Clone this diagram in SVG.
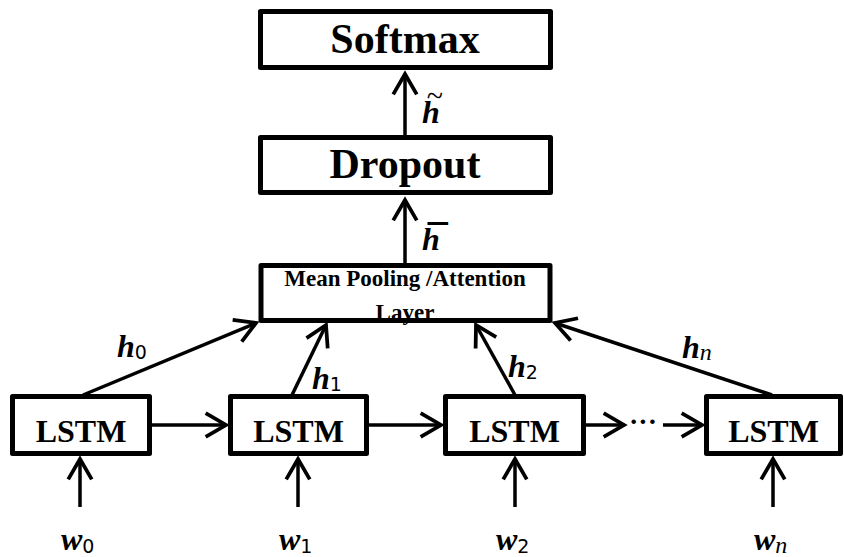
<svg xmlns="http://www.w3.org/2000/svg" width="844" height="557" viewBox="0 0 844 557">
<style>
.box{fill:none;stroke:#000;stroke-width:5;stroke-linejoin:round}
.t{font-family:"Liberation Serif","Times New Roman",serif;font-weight:bold;text-anchor:middle;fill:#000}
.c{stroke:#000;stroke-width:3.5;fill:none}
.m{font-family:"Liberation Serif","Times New Roman",serif;font-weight:bold;font-style:italic;font-size:32px;fill:#000}
.s{font-family:"DejaVu Sans","Liberation Sans",sans-serif;font-size:19px;font-weight:normal;font-style:normal}
.si{font-family:"Liberation Serif",serif;font-size:24px;font-weight:normal;font-style:italic}
.acc{font-family:"Liberation Serif","Times New Roman",serif;font-style:normal}
</style>
<defs>
<marker id="ah" markerUnits="userSpaceOnUse" markerWidth="30" markerHeight="30" viewBox="-24 -14 28 28" refX="0" refY="0" orient="auto">
<path d="M -19 -11 L 0 0 L -19 11" fill="none" stroke="#000" stroke-width="3.5" stroke-linejoin="miter"/>
</marker>
</defs>
<g id="labels">
<text class="m" x="422" y="123" font-size="27">h<tspan class="acc" dx="-13" dy="-17" font-size="30" font-weight="normal">~</tspan></text>
<text class="m" x="422" y="250" font-size="27">h<tspan class="acc" dx="-12" dy="2" font-size="40" font-weight="bold">¯</tspan></text>
<text class="m" x="117" y="357">h<tspan class="s" dy="2">0</tspan></text>
<text class="m" x="312" y="389">h<tspan class="s" dy="2">1</tspan></text>
<text class="m" x="508" y="377">h<tspan class="s" dy="2">2</tspan></text>
<text class="m" x="682" y="358">h<tspan class="si" dy="2">n</tspan></text>
<text class="m" x="61" y="550">w<tspan class="s" dy="3">0</tspan></text>
<text class="m" x="279" y="550">w<tspan class="s" dy="3">1</tspan></text>
<text class="m" x="496" y="550">w<tspan class="s" dy="3">2</tspan></text>
<text class="m" x="754" y="550">w<tspan class="si" dy="3">n</tspan></text>
</g>
<g id="connectors">
<line class="c" x1="405" y1="135" x2="405" y2="74" marker-end="url(#ah)"/>
<line class="c" x1="405" y1="263" x2="405" y2="200" marker-end="url(#ah)"/>
<line class="c" x1="83" y1="395" x2="256" y2="323" marker-end="url(#ah)"/>
<line class="c" x1="292" y1="395" x2="326" y2="325" marker-end="url(#ah)"/>
<line class="c" x1="515" y1="395" x2="476" y2="325" marker-end="url(#ah)"/>
<line class="c" x1="772" y1="395" x2="555" y2="323" marker-end="url(#ah)"/>
<line class="c" x1="152" y1="425" x2="226" y2="425" marker-end="url(#ah)"/>
<line class="c" x1="369" y1="425" x2="441" y2="425" marker-end="url(#ah)"/>
<line class="c" x1="586" y1="425" x2="624" y2="425" marker-end="url(#ah)"/>
<line class="c" x1="663" y1="425" x2="702" y2="425" marker-end="url(#ah)"/>
<line class="c" x1="80" y1="507" x2="80" y2="459" marker-end="url(#ah)"/>
<line class="c" x1="298" y1="507" x2="298" y2="459" marker-end="url(#ah)"/>
<line class="c" x1="515" y1="507" x2="515" y2="459" marker-end="url(#ah)"/>
<line class="c" x1="773" y1="507" x2="773" y2="459" marker-end="url(#ah)"/>
<text class="t" x="643" y="431" font-size="28">···</text>
</g>
<g id="softmax">
<text class="t" x="405" y="53" font-size="42">Softmax</text>
<rect class="box" x="260.5" y="11.5" width="290" height="56"/>
</g>
<g id="dropout">
<text class="t" x="405" y="178" font-size="42">Dropout</text>
<rect class="box" x="260.5" y="137.5" width="290" height="55"/>
</g>
<g id="pooling">
<text class="t" x="405" y="286" font-size="23">Mean Pooling /Attention</text>
<text class="t" x="405" y="320" font-size="23">Layer</text>
<rect class="box" x="261" y="265.5" width="289" height="55"/>
</g>
<g id="lstm0">
<rect x="12.5" y="396.5" width="137" height="57" fill="#fff"/>
<text class="t" x="81" y="442" font-size="32">LSTM</text>
<rect class="box" x="12.5" y="396.5" width="137" height="57"/>
</g>
<g id="lstm1">
<rect x="230.5" y="396.5" width="136" height="57" fill="#fff"/>
<text class="t" x="298.5" y="442" font-size="32">LSTM</text>
<rect class="box" x="230.5" y="396.5" width="136" height="57"/>
</g>
<g id="lstm2">
<rect x="445.5" y="396.5" width="138" height="57" fill="#fff"/>
<text class="t" x="514.5" y="442" font-size="32">LSTM</text>
<rect class="box" x="445.5" y="396.5" width="138" height="57"/>
</g>
<g id="lstmn">
<rect x="706.5" y="396.5" width="134" height="57" fill="#fff"/>
<text class="t" x="773.5" y="442" font-size="32">LSTM</text>
<rect class="box" x="706.5" y="396.5" width="134" height="57"/>
</g>
</svg>
